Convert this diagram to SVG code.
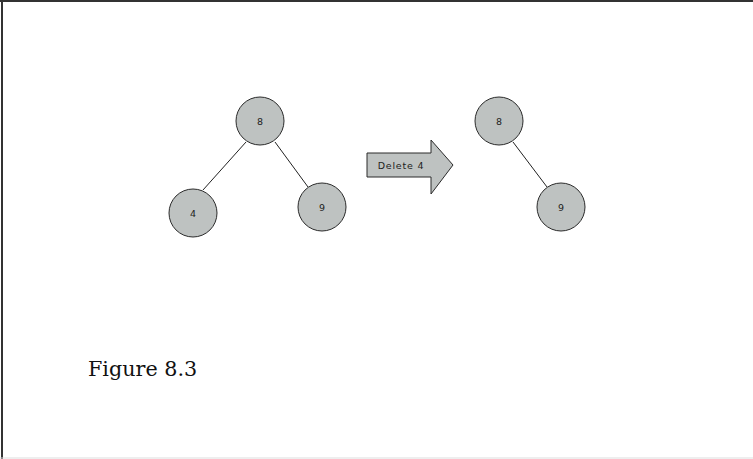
<svg xmlns="http://www.w3.org/2000/svg" width="753" height="459" viewBox="0 0 753 459">
<style>
.node circle{fill:#bec2c1;stroke:#2b2b2b;stroke-width:1}
.node text{font-family:"DejaVu Sans",sans-serif;font-size:9.5px;fill:#222;text-anchor:middle}
.edge{stroke:#222;stroke-width:1;fill:none}
</style>
<rect x="0" y="0" width="753" height="459" fill="#fff"/>
<line x1="0" y1="1" x2="753" y2="1" stroke="#333" stroke-width="2"/>
<line x1="2" y1="0" x2="2" y2="459" stroke="#333" stroke-width="2"/>
<line x1="0" y1="458" x2="753" y2="458" stroke="#ddd" stroke-width="1"/>
<g id="connectors">
<line class="edge" x1="246" y1="142" x2="203" y2="190"/>
<line class="edge" x1="275" y1="142" x2="308" y2="187"/>
<line class="edge" x1="513" y1="142" x2="547" y2="187"/>
</g>
<g id="nodeL8" class="node"><circle cx="260" cy="121" r="24"/><text x="260" y="124.5">8</text></g>
<g id="nodeL4" class="node"><circle cx="193" cy="213" r="24"/><text x="193" y="216.5">4</text></g>
<g id="nodeL9" class="node"><circle cx="322" cy="207" r="24"/><text x="322" y="210.5">9</text></g>
<g id="nodeR8" class="node"><circle cx="499" cy="121" r="24"/><text x="499" y="124.5">8</text></g>
<g id="nodeR9" class="node"><circle cx="561" cy="207" r="24"/><text x="561" y="210.5">9</text></g>
<g id="arrow">
<polygon points="367,153 431,153 431,140 453,165 431,194 431,177 367,177" fill="#bec2c1" stroke="#2b2b2b" stroke-width="1"/>
<text x="401" y="168.5" font-family="DejaVu Sans,sans-serif" font-size="9.5" letter-spacing="0.8" text-anchor="middle" fill="#222">Delete 4</text>
</g>
<text x="88" y="376" font-family="DejaVu Serif,serif" font-size="20.7" fill="#111">Figure 8.3</text>
</svg>
